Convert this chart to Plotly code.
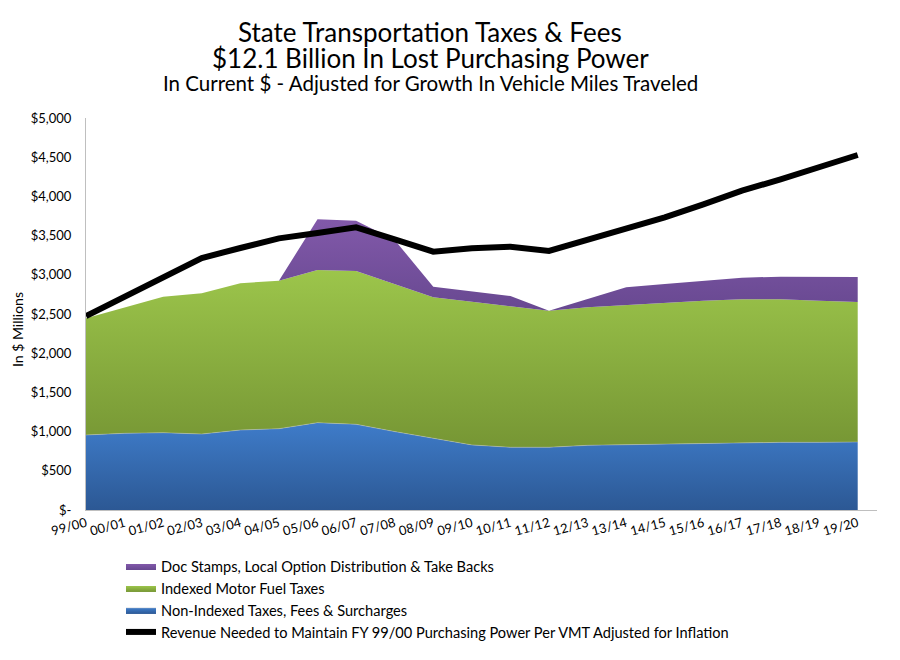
import plotly.graph_objects as go

years = ["99/00", "00/01", "01/02", "02/03", "03/04", "04/05", "05/06", "06/07", "07/08",
         "08/09", "09/10", "10/11", "11/12", "12/13", "13/14", "14/15", "15/16", "16/17",
         "17/18", "18/19", "19/20"]

non_indexed = [957, 978, 986, 969, 1020, 1037, 1114, 1093, 1000, 914, 830, 800, 800, 825,
               833, 846, 855, 863, 863, 863, 867]
indexed_fuel = [1488, 1603, 1735, 1795, 1872, 1888, 1947, 1955, 1883, 1799, 1827, 1802, 1742,
                1760, 1782, 1803, 1815, 1824, 1824, 1807, 1786]
doc_stamps = [0, 0, 0, 0, 0, 0, 646, 642, 561, 136, 128, 128, 0, 102, 225, 234, 251, 276,
              289, 302, 319]
revenue_needed = [2474, 2720, 2960, 3214, 3342, 3465, 3533, 3605, 3453, 3295, 3338, 3358, 3304,
                  3444, 3593, 3733, 3899, 4073, 4218, 4366, 4528]

y_ticks = [0, 500, 1000, 1500, 2000, 2500, 3000, 3500, 4000, 4500, 5000]
y_ticktext = ["$-", "$500", "$1,000", "$1,500", "$2,000", "$2,500", "$3,000", "$3,500",
              "$4,000", "$4,500", "$5,000"]

FONT = "Lato"
OFF = 8  # page body margin offset
W, H = 900, 660
# plot area in page pixels: left 86, right 877, top 118, bottom 510
L = 86 - OFF
T = 118 - OFF
R = W - (877 - OFF)
B = H - (510 - OFF)
pw, ph = W - L - R, H - T - B


def px_x(px):
    return (px - OFF - L) / pw


def px_y(py):
    return (H - B - (py - OFF)) / ph


fig = go.Figure()

fig.add_trace(go.Scatter(
    x=years, y=non_indexed, name="Non-Indexed Taxes, Fees & Surcharges",
    stackgroup="s", mode="lines", line=dict(width=0.6, color="rgba(200,200,200,0.7)"),
    fillcolor="#3b76c0",
    fillgradient=dict(type="vertical", start=0, stop=1150,
                      colorscale=[[0, "#2c5894"], [1, "#3f7dcb"]]),
    legendrank=3, legendgroup="c",
))
fig.add_trace(go.Scatter(
    x=years, y=indexed_fuel, name="Indexed Motor Fuel Taxes",
    stackgroup="s", mode="lines", line=dict(width=0),
    fillcolor="#8cb444",
    fillgradient=dict(type="vertical", start=800, stop=3050,
                      colorscale=[[0, "#769634"], [1, "#9cc54b"]]),
    legendrank=2, legendgroup="b",
))
fig.add_trace(go.Scatter(
    x=years, y=doc_stamps, name="Doc Stamps, Local Option Distribution & Take Backs",
    stackgroup="s", mode="lines", line=dict(width=0),
    fillcolor="#7853a0",
    fillgradient=dict(type="vertical", start=2500, stop=3720,
                      colorscale=[[0, "#674890"], [1, "#8259aa"]]),
    legendrank=1, legendgroup="a",
))
fig.add_trace(go.Scatter(
    x=years, y=revenue_needed,
    name="Revenue Needed to Maintain FY 99/00 Purchasing Power Per VMT Adjusted for Inflation",
    mode="lines", line=dict(color="black", width=6),
    legendrank=4, legendgroup="d",
))

fig.update_layout(
    width=W, height=H,
    margin=dict(l=L, r=R, t=T, b=B, autoexpand=False),
    paper_bgcolor="white", plot_bgcolor="white",
    font=dict(family=FONT, color="#000000", size=13),
    showlegend=True,
    legend=dict(x=px_x(121), xanchor="left", y=px_y(550), yanchor="top",
                font=dict(family=FONT, size=14.6, color="#000000"),
                tracegroupgap=0, bgcolor="rgba(0,0,0,0)"),
    xaxis=dict(type="category", range=[0, 20.5], tickangle=-15, automargin=False,
               showline=True, linecolor="#bfbfbf", linewidth=1,
               showgrid=False, zeroline=False, ticks="",
               tickfont=dict(family=FONT, size=13, color="#000000")),
    yaxis=dict(range=[0, 5000], tickvals=y_ticks, ticktext=y_ticktext, automargin=False,
               showline=True, linecolor="#bfbfbf", linewidth=1,
               showgrid=False, zeroline=False, ticks="", ticklabelstandoff=11,
               tickfont=dict(family=FONT, size=13, color="#000000")),
    annotations=[
        dict(text="State Transportation Taxes & Fees", x=px_x(430), y=px_y(32),
             font=dict(family=FONT, size=26, color="#000000")),
        dict(text="$12.1 Billion In Lost Purchasing Power", x=px_x(430), y=px_y(58),
             font=dict(family=FONT, size=26, color="#000000")),
        dict(text="In Current $ - Adjusted for Growth In Vehicle Miles Traveled", x=px_x(430),
             y=px_y(83), font=dict(family=FONT, size=20.5, color="#000000")),
        dict(text="In $ Millions", x=px_x(17), y=px_y(330), textangle=-90,
             font=dict(family=FONT, size=14, color="#000000")),
    ],
)
fig.update_annotations(xref="paper", yref="paper", showarrow=False,
                       xanchor="center", yanchor="middle")

fig.write_html("out.html")
